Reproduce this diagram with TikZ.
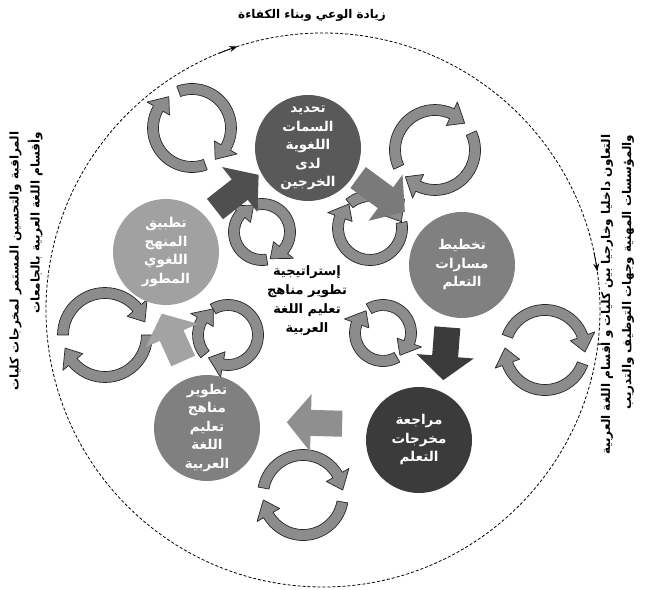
\documentclass[tikz,border=0pt]{standalone}
\usepackage{fontspec}
\usepackage{tikz}
\usetikzlibrary{positioning}
\usetikzlibrary{arrows.meta}
\newfontfamily\arabicfont[Script=Arabic]{DejaVu Sans}
\TeXXeTstate=1
\newcommand{\ar}[1]{\beginR #1\endR}

\begin{document}
\begin{tikzpicture}[x=1pt,y=1pt,
  stage/.style={circle,inner sep=0pt,minimum size=106pt,text=white,align=center,
    font=\arabicfont\bfseries\fontsize{13.5}{18.5}\selectfont},
  flow/.style={line width=26pt,-{Triangle[length=24pt,width=56pt]}},
  cycarrow/.style={fill=black!45,draw=black!85,line width=0.7pt,line join=round},
  title/.style={font=\arabicfont\bfseries\fontsize{12}{21}\selectfont,align=right}]
\useasboundingbox (0,0) rectangle (647,589);

% outer ring
\draw[dash pattern=on 3pt off 2pt,line width=0.8pt] (323,279) circle[radius=277pt];
\draw[-{Stealth[length=8pt,width=6pt]},line width=0.8pt,shift={(323,279)}] (112:277) arc[start angle=112,end angle=108,radius=277pt];
\draw[-{Stealth[length=8pt,width=6pt]},line width=0.8pt,shift={(323,279)}] (12:277) arc[start angle=12,end angle=8,radius=277pt];

% cycle arrows
\foreach \cx/\cy/\r/\s/\e in {192/461/39/110/-30, 192/461/39/-70/-210,
    435/439/40/205/65, 435/439/40/25/-115,
    545/239/40/160/20, 545/239/40/-20/-160,
    303/94/40/170/30, 303/94/40/-10/-150,
    105/254/42/180/40, 105/254/42/0/-140,
    262/357/28/100/-40, 262/357/28/-80/-220,
    370/361/32/130/40, 370/361/32/10/-200,
    383/256/28/120/-20, 383/256/28/-60/-200,
    228/254/30/120/-100, 228/254/30/-140/-210}{
  \pgfmathsetmacro\ro{\r+5.5}
  \pgfmathsetmacro\ri{\r-5.5}
  \pgfmathsetmacro\ho{\r+13}
  \pgfmathsetmacro\hi{\r-13}
  \pgfmathsetmacro\tp{\e-16/\r*57.3}
  \draw[cycarrow,shift={(\cx,\cy)}] (\s:\ro) arc[start angle=\s,end angle=\e,radius=\ro pt]
    -- (\e:\ho) -- (\tp:\r) -- (\e:\hi) -- (\e:\ri)
    arc[start angle=\e,end angle=\s,radius=\ri pt] -- cycle;
}

% stages
\node[stage,fill=black!65] (traits)  at (308,441) {\ar{تحديد}\\\ar{السمات}\\\ar{اللغوية}\\\ar{لدى}\\\ar{الخرجين}};
\node[stage,fill=black!50] (paths)   at (462,324) {\ar{تخطيط}\\\ar{مسارات}\\\ar{التعلم}};
\node[stage,fill=black!77] (review)  at (419,149) {\ar{مراجعة}\\\ar{مخرجات}\\\ar{التعلم}};
\node[stage,fill=black!50] (develop) at (207,161) {\ar{تطوير}\\\ar{مناهج}\\\ar{تعليم}\\\ar{اللغة}\\\ar{العربية}};
\node[stage,fill=black!37] (apply)   at (166,337) {\ar{تطبيق}\\\ar{المنهج}\\\ar{اللغوي}\\\ar{المطور}};

\node[title,align=center,font=\arabicfont\bfseries\fontsize{13}{19}\selectfont] (core) at (307,288) {\ar{إستراتيجية}\\\ar{تطوير مناهج}\\\ar{تعليم اللغة}\\\ar{العربية}};

% flow between stages
\draw[flow,draw=black!69,shorten <=12pt,shorten >=3pt] (apply.42) -- (traits.208);
\draw[flow,draw=black!52,shorten <=5pt,shorten >=25pt] (traits.-30) -- (paths.134);
\draw[flow,draw=black!77,shorten <=11pt,shorten >=12pt] (paths.255) -- (review.64);
\draw[flow,draw=black!44,shorten <=26pt,shorten >=27pt] (review.163) -- (develop.7);
\draw[flow,draw=black!36,shorten <=18pt,shorten >=10pt] (develop.108) -- (apply.261);

% ring labels
\node[title] (aware) at (312,574) {\ar{زيادة الوعي وبناء الكفاءة}};
\node[title,rotate=90,anchor=east] (monitor) at (26,461) {\ar{المراقبة والتحسين المستمر لمخرجات كليات}\\\ar{وأقسام اللغة العربية بالجامعات}};
\node[title,rotate=90,anchor=east] (coop) at (616,458) {\ar{التعاون داخليا وخارجيا بين كليات و أقسام اللغة العربية}\\\ar{والمؤسسات المهنية وجهات التوظيف والتدريب}};
\end{tikzpicture}
\end{document}
